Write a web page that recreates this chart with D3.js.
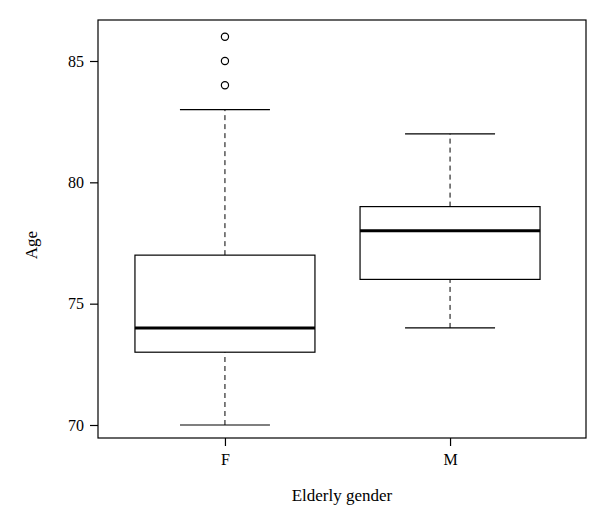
<!DOCTYPE html>
<html><head><meta charset="utf-8">
<script src="https://cdn.jsdelivr.net/npm/d3@7"></script>
<style>body{margin:0;background:#fff}</style>
</head><body>
<svg width="600" height="528"></svg>
<script>
var groups = ["F", "M"];
var lowWhisker = [70, 74];
var q1 = [73, 76];
var medians = [74, 78];
var q3 = [77, 79];
var highWhisker = [83, 82];
var outliersF = [84, 85, 86];
var yTicks = [70, 75, 80, 85];

var svg = d3.select("svg");
var pLeft = 98, pRight = 586, pTop = 20, pBottom = 438;

var x = d3.scalePoint().domain(groups).range([pLeft, pRight - 9]).padding(0.564);
var y = d3.scaleLinear().domain([70, 85]).range([425, 61]);
var boxW = 180;

svg.append("rect")
  .attr("x", pLeft).attr("y", pTop)
  .attr("width", pRight - pLeft).attr("height", pBottom - pTop)
  .attr("fill", "none").attr("stroke", "#000").attr("stroke-width", 1.2);

var g = svg.selectAll(".box").data(groups).enter().append("g");

g.append("line")
  .attr("x1", d => x(d)).attr("x2", d => x(d))
  .attr("y1", (d, i) => y(lowWhisker[i])).attr("y2", (d, i) => y(q1[i]))
  .attr("stroke", "#000").attr("stroke-dasharray", "5,4");
g.append("line")
  .attr("x1", d => x(d)).attr("x2", d => x(d))
  .attr("y1", (d, i) => y(q3[i])).attr("y2", (d, i) => y(highWhisker[i]))
  .attr("stroke", "#000").attr("stroke-dasharray", "5,4");
[lowWhisker, highWhisker].forEach(function (arr) {
  g.append("line")
    .attr("x1", d => x(d) - boxW / 4).attr("x2", d => x(d) + boxW / 4)
    .attr("y1", (d, i) => y(arr[i])).attr("y2", (d, i) => y(arr[i]))
    .attr("stroke", "#000").attr("stroke-width", 1.2);
});
g.append("rect")
  .attr("x", d => x(d) - boxW / 2).attr("width", boxW)
  .attr("y", (d, i) => y(q3[i])).attr("height", (d, i) => y(q1[i]) - y(q3[i]))
  .attr("fill", "#fff").attr("stroke", "#000").attr("stroke-width", 1.2);
g.append("line")
  .attr("x1", d => x(d) - boxW / 2).attr("x2", d => x(d) + boxW / 2)
  .attr("y1", (d, i) => y(medians[i])).attr("y2", (d, i) => y(medians[i]))
  .attr("stroke", "#000").attr("stroke-width", 3);

svg.selectAll(".out").data(outliersF).enter().append("circle")
  .attr("cx", x("F")).attr("cy", d => y(d)).attr("r", 3.6)
  .attr("fill", "none").attr("stroke", "#000").attr("stroke-width", 1.2);

var yAxis = d3.axisLeft(y).tickValues(yTicks).tickSize(8).tickPadding(6);
svg.append("g").attr("transform", "translate(" + pLeft + ",0)").call(yAxis)
  .call(a => a.select(".domain").remove());
var xAxis = d3.axisBottom(x).tickSize(8).tickPadding(8);
svg.append("g").attr("transform", "translate(0," + pBottom + ")").call(xAxis)
  .call(a => a.select(".domain").remove());
svg.selectAll(".tick text").attr("font-family", "Liberation Serif").attr("font-size", 16).attr("fill", "#000");
svg.selectAll(".tick line").attr("stroke", "#000").attr("stroke-width", 1.2);

svg.append("text").attr("x", 342).attr("y", 501).attr("text-anchor", "middle").attr("fill", "#000")
  .attr("font-family", "Liberation Serif").attr("font-size", 17).text("Elderly gender");
svg.append("text").attr("transform", "translate(37,245) rotate(-90)").attr("text-anchor", "middle").attr("fill", "#000")
  .attr("font-family", "Liberation Serif").attr("font-size", 17).text("Age");
</script>
</body></html>
